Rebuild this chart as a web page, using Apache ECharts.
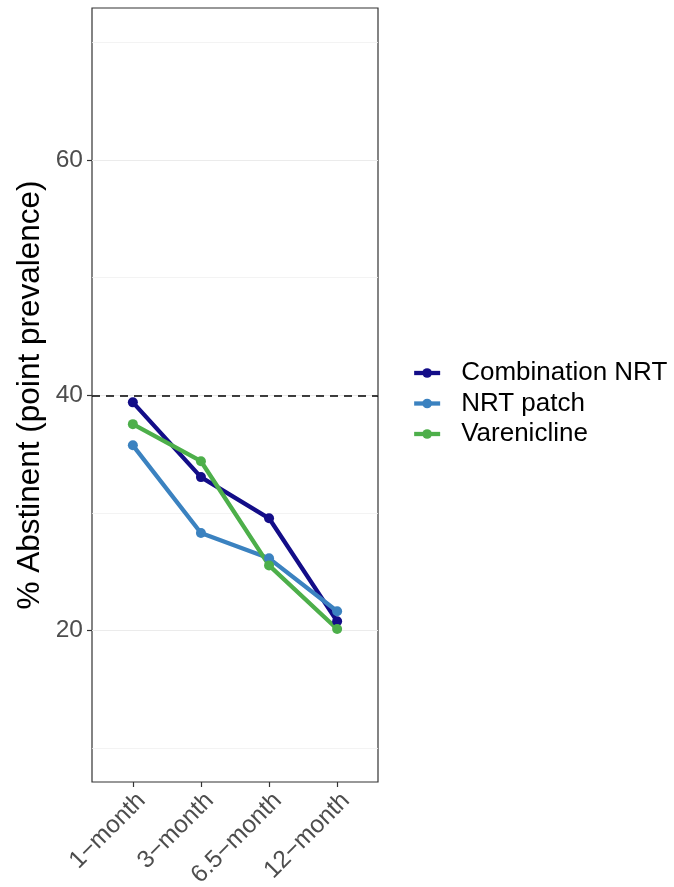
<!DOCTYPE html>
<html>
<head>
<meta charset="utf-8">
<script src="https://cdn.jsdelivr.net/npm/echarts@6/dist/echarts.min.js"></script>
<style>
  html, body { margin: 0; padding: 0; background: #fff; }
  #main { width: 674px; height: 887px; }
</style>
</head>
<body>
<div id="main"></div>
<script>
// categories on the x axis
var timepoints = ['1\u2212month', '3\u2212month', '6.5\u2212month', '12\u2212month'];
// % abstinent per group
var combinationNRT = [39.4, 33.05, 29.55, 20.8];
var nrtPatch = [35.75, 28.3, 26.15, 21.65];
var varenicline = [37.55, 34.4, 25.55, 20.15];
// y tick labels and gridlines
var yTicks = [20, 40, 60];
var yMinorGrid = [10, 30, 50, 70];
var refLine = 40;

var font = 'Liberation Sans, Arial, Helvetica, sans-serif';

function pts(arr) {
  return arr.map(function (v, i) { return [i + 1, v]; });
}

var chart = echarts.init(document.getElementById('main'));

var gridLines = [];
yMinorGrid.forEach(function (v) {
  gridLines.push({ yAxis: v, lineStyle: { color: '#f0f0f0', width: 0.8, type: 'solid' } });
});
yTicks.forEach(function (v) {
  gridLines.push({ yAxis: v, lineStyle: { color: '#ebebeb', width: 1.2, type: 'solid' } });
});
gridLines.push({ yAxis: refLine, lineStyle: { color: '#000', width: 1.5, type: [8, 6] } });

function lineSeries(name, color, data) {
  return {
    name: name,
    type: 'line',
    data: pts(data),
    symbol: 'circle',
    symbolSize: 10,
    z: 5,
    lineStyle: { color: color, width: 4.3 },
    itemStyle: { color: color },
    emphasis: { disabled: true },
    animation: false
  };
}

var option = {
  animation: false,
  grid: {
    left: 92, right: 296, top: 8, bottom: 105,
    outerBoundsMode: 'none',
    containLabel: false,
    show: true, borderColor: '#333', borderWidth: 1.2, backgroundColor: '#fff'
  },
  legend: {
    orient: 'vertical',
    left: 407,
    top: 355,
    itemWidth: 26,
    itemHeight: 12,
    itemGap: 4.5,
    lineStyle: { width: 4.3 },
    textStyle: { fontFamily: font, fontSize: 26, color: '#000', lineHeight: 26, padding: [0, 0, 0, 16] },
    data: ['Combination NRT', 'NRT patch', 'Varenicline']
  },
  xAxis: {
    type: 'value',
    min: 0.4,
    max: 4.6,
    splitLine: { show: false },
    axisLine: { show: false },
    axisTick: { show: true, length: 5, lineStyle: { color: '#333', width: 1.2 }, customValues: [1, 2, 3, 4] },
    axisLabel: {
      customValues: [1, 2, 3, 4],
      rotate: 45,
      margin: 6,
      verticalAlign: 'top',
      fontFamily: font,
      fontSize: 24.5,
      color: '#4d4d4d',
      formatter: function (v) { return timepoints[Math.round(v) - 1]; }
    }
  },
  yAxis: {
    type: 'value',
    min: 7.15,
    max: 72.9,
    name: '% Abstinent (point prevalence)',
    nameLocation: 'middle',
    nameGap: 46,
    nameTextStyle: { fontFamily: font, fontSize: 31.5, color: '#000' },
    splitLine: { show: false },
    axisLine: { show: false },
    axisTick: { show: true, length: 5, lineStyle: { color: '#333', width: 1.2 }, customValues: yTicks },
    axisLabel: {
      customValues: yTicks,
      margin: 9,
      fontFamily: font,
      fontSize: 24.5,
      color: '#4d4d4d'
    }
  },
  series: [
    {
      name: 'grid',
      type: 'line',
      data: [],
      z: 1,
      silent: true,
      markLine: {
        silent: true,
        symbol: 'none',
        label: { show: false },
        animation: false,
        data: gridLines
      }
    },
    lineSeries('Combination NRT', '#130d88', combinationNRT),
    lineSeries('NRT patch', '#3b82c0', nrtPatch),
    lineSeries('Varenicline', '#4daf4a', varenicline)
  ]
};

chart.setOption(option);
</script>
</body>
</html>
